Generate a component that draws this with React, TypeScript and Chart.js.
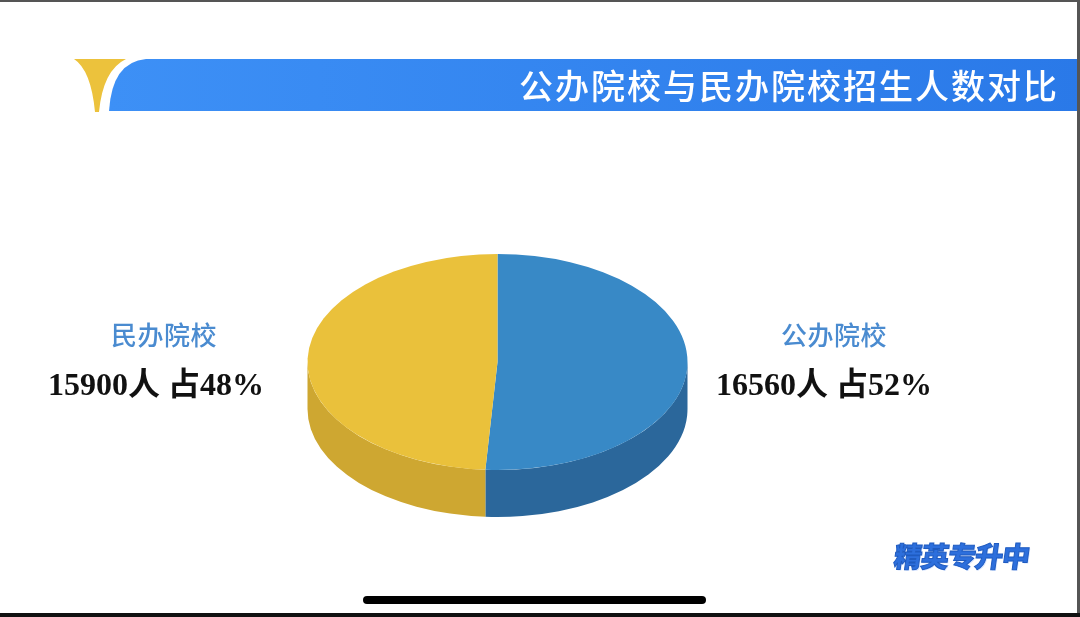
import React, { useEffect, useRef } from "react";
import { Chart, registerables } from "chart.js";

Chart.register(...registerables);

const categories = ["公办院校", "民办院校"];
const enrollment = [16560, 15900];
const shareLabels = ["占52%", "占48%"];
const topColors = ["#3889c6", "#eac13b"];
const sideColors = ["#2b679b", "#cea731"];
const titleText = "公办院校与民办院校招生人数对比";
const logoText = "精英专升中";

const SQUASH = 108 / 190;
const DEPTH_RATIO = 47 / 190;

const pie3d = {
  id: "pie3d",
  beforeDatasetsDraw(chart: any) {
    const ctx = chart.ctx;
    const meta = chart.getDatasetMeta(0);
    let cx = 0;
    let cy = 0;
    meta.data.forEach((arc: any, i: number) => {
      const p = arc.getProps(["x", "y", "outerRadius", "startAngle", "endAngle"], true);
      cx = p.x;
      cy = p.y;
      const R = p.outerRadius;
      const ry = R * SQUASH;
      const depth = R * DEPTH_RATIO;
      for (const shift of [-2 * Math.PI, 0, 2 * Math.PI]) {
        const s = Math.max(p.startAngle + shift, 0);
        const e = Math.min(p.endAngle + shift, Math.PI);
        if (e > s) {
          ctx.save();
          ctx.beginPath();
          ctx.ellipse(p.x, p.y, R, ry, 0, s, e, false);
          ctx.ellipse(p.x, p.y + depth, R, ry, 0, e, s, true);
          ctx.closePath();
          ctx.fillStyle = sideColors[i];
          ctx.fill();
          ctx.restore();
        }
      }
    });
    ctx.save();
    ctx.translate(cx, cy);
    ctx.scale(1, SQUASH);
    ctx.translate(-cx, -cy);
  },
  afterDatasetsDraw(chart: any) {
    chart.ctx.restore();
  },
};

export default function App() {
  const canvasRef = useRef<HTMLCanvasElement | null>(null);

  useEffect(() => {
    if (!canvasRef.current) return;
    const chart = new Chart(canvasRef.current, {
      type: "pie",
      data: {
        labels: categories,
        datasets: [
          {
            data: enrollment,
            backgroundColor: topColors,
            borderWidth: 0,
            hoverOffset: 0,
            radius: 190,
          } as any,
        ],
      },
      options: {
        responsive: false,
        animation: false,
        events: [],
        layout: { padding: { left: 0, right: 85, top: 107, bottom: 0 } },
        plugins: {
          legend: { display: false },
          tooltip: { enabled: false },
        },
      },
      plugins: [pie3d],
    });
    return () => chart.destroy();
  }, []);

  const sansCJK = "'Noto Sans CJK SC', 'Noto Sans', sans-serif";
  const labelName: React.CSSProperties = {
    position: "absolute",
    transform: "translate(-50%, -50%)",
    fontFamily: sansCJK,
    fontSize: 26,
    fontWeight: 500,
    color: "#4a8bd0",
    whiteSpace: "nowrap",
    letterSpacing: 0.5,
  };
  const labelValue: React.CSSProperties = {
    position: "absolute",
    transform: "translate(-50%, -50%)",
    fontFamily: "'Liberation Serif', 'Noto Sans CJK SC', serif",
    fontWeight: 700,
    fontSize: 32,
    color: "#111",
    whiteSpace: "nowrap",
  };

  return (
    <div
      style={{
        position: "fixed",
        left: 0,
        top: 0,
        width: 1080,
        height: 617,
        background: "#fff",
        overflow: "hidden",
      }}
    >
      <canvas
        ref={canvasRef}
        width={1080}
        height={617}
        style={{ position: "absolute", left: 0, top: 0, width: 1080, height: 617 }}
      />
      <svg
        width={1080}
        height={617}
        style={{ position: "absolute", left: 0, top: 0, pointerEvents: "none" }}
      >
        <defs>
          <linearGradient id="barGrad" x1="0" y1="0" x2="1" y2="0">
            <stop offset="0" stopColor="#3d90f6" />
            <stop offset="1" stopColor="#2a79e8" />
          </linearGradient>
        </defs>
        <path d="M74,59 L126,59 Q103,70 99,112 L95,112 Q91,70 74,59 Z" fill="#ecc23c" />
        <path d="M109,111 Q112,62 146,59 L1080,59 L1080,111 Z" fill="url(#barGrad)" />
        <rect x={0} y={0} width={1080} height={2} fill="#555" />
        <rect x={1077} y={0} width={3} height={617} fill="#555" />
        <rect x={0} y={613} width={1080} height={4} fill="#111" />
        <rect x={363} y={596} width={343} height={8} rx={4} fill="#000" />
      </svg>
      <div
        style={{
          position: "absolute",
          right: 21,
          top: 59,
          height: 52,
          lineHeight: "52px",
          fontFamily: sansCJK,
          fontSize: 34,
          fontWeight: 500,
          color: "#fff",
          letterSpacing: 2,
          whiteSpace: "nowrap",
        }}
      >
        {titleText}
      </div>
      <div style={{ ...labelName, left: 164, top: 333 }}>{categories[1]}</div>
      <div style={{ ...labelValue, left: 156, top: 381 }}>
        {enrollment[1]}人 {shareLabels[1]}
      </div>
      <div style={{ ...labelName, left: 834, top: 333 }}>{categories[0]}</div>
      <div style={{ ...labelValue, left: 824, top: 381 }}>
        {enrollment[0]}人 {shareLabels[0]}
      </div>
      <div
        style={{
          position: "absolute",
          left: 962,
          top: 555,
          transform: "translate(-50%, -50%) skewX(-8deg)",
          fontFamily: sansCJK,
          fontWeight: 900,
          fontSize: 28,
          color: "#2d6fdc",
          whiteSpace: "nowrap",
          WebkitTextStroke: "1px #1f5bc0",
          textShadow: "0 0 2px #fff, 1px 1px 0 #cfe0ff",
          letterSpacing: -1,
        }}
      >
        {logoText}
      </div>
    </div>
  );
}
